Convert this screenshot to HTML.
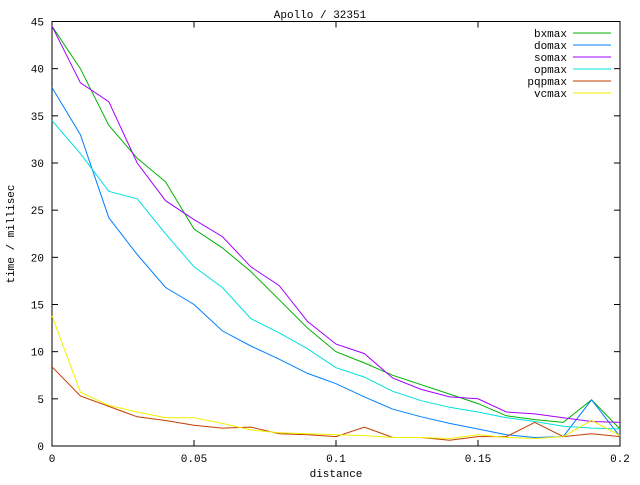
<!DOCTYPE html>
<html><head><style>
body{margin:0;background:#fff}
text{font-family:"Liberation Mono",monospace;font-size:11px;fill:#000}
</style></head><body>
<svg id="s" width="640" height="480" xmlns="http://www.w3.org/2000/svg"></svg>
<script>
var s=document.getElementById('s');
var X0=52,X1=620,Y0=446,Y1=21.5;
function px(x){return X0+(X1-X0)*x/0.2}
function py(y){return Y0-(Y0-Y1)*y/45}
var h='<rect x="'+X0+'" y="'+Y1+'" width="'+(X1-X0)+'" height="'+(Y0-Y1)+'" fill="none" stroke="#000" stroke-width="1"/>';
for(var v=0;v<=45;v+=5){var y=py(v);h+='<line x1="'+X0+'" x2="'+(X0+6)+'" y1="'+y+'" y2="'+y+'" stroke="#000"/><line x1="'+(X1-6)+'" x2="'+X1+'" y1="'+y+'" y2="'+y+'" stroke="#000"/><text x="44" y="'+(y+4)+'" text-anchor="end">'+v+'</text>';}
var xl=['0','0.05','0.1','0.15','0.2'];
for(var i=0;i<5;i++){var x=px(i*0.05);h+='<line x1="'+x+'" x2="'+x+'" y1="'+Y0+'" y2="'+(Y0-6)+'" stroke="#000"/><line x1="'+x+'" x2="'+x+'" y1="'+Y1+'" y2="'+(Y1+6)+'" stroke="#000"/><text x="'+x+'" y="462" text-anchor="middle">'+xl[i]+'</text>';}
h+='<text x="320" y="18" text-anchor="middle">Apollo / 32351</text>';
h+='<text x="336" y="477" text-anchor="middle">distance</text>';
h+='<text transform="translate(14,234) rotate(-90)" text-anchor="middle">time / millisec</text>';
var D=[
['bxmax','#00b000',[44.5,40,34,30.5,28,23,21,18.5,15.5,12.5,10,8.8,7.5,6.5,5.5,4.5,3.2,2.8,2.5,4.9,1.8]],
['domax','#0080ff',[38,33,24.2,20.3,16.8,15,12.2,10.6,9.2,7.7,6.6,5.2,3.9,3.1,2.4,1.8,1.2,0.9,1,4.9,1.0]],
['somax','#a000ff',[44.5,38.5,36.5,30,26,24,22.2,19,17,13.2,10.8,9.8,7.2,6,5.2,5,3.6,3.4,3,2.6,2.5]],
['opmax','#00e0e0',[34.5,31,27,26.2,22.5,19,16.8,13.5,12,10.3,8.3,7.3,5.8,4.8,4.1,3.6,3.0,2.6,2.1,1.9,1.8]],
['pqpmax','#c04000',[8.4,5.3,4.2,3.1,2.7,2.2,1.9,2.0,1.3,1.2,1.0,2.0,0.9,0.9,0.6,1.0,1.0,2.5,1.0,1.3,1.0]],
['vcmax','#f0f000',[13.8,5.7,4.3,3.6,3.0,3.0,2.4,1.7,1.4,1.3,1.2,1.1,0.9,0.9,0.8,1.2,0.9,0.8,1.0,2.7,1.1]]];
D.forEach(function(d,k){
 var p=d[2].map(function(v,i){return px(i*0.01).toFixed(1)+','+py(v).toFixed(1)}).join(' ');
 h+='<polyline points="'+p+'" fill="none" stroke="'+d[1]+'" stroke-width="1"/>';
 var ly=33+k*12;
 h+='<text x="567" y="'+(ly+4)+'" text-anchor="end">'+d[0]+'</text><line x1="573" x2="611" y1="'+ly+'" y2="'+ly+'" stroke="'+d[1]+'"/>';
});
s.innerHTML=h;
</script>
</body></html>
